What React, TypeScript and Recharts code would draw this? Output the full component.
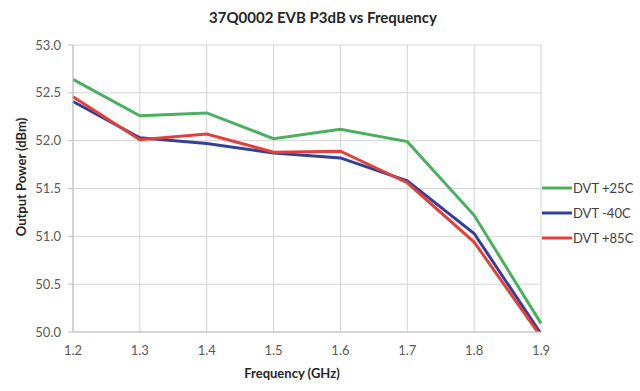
import React from "react";
import { LineChart, Line, XAxis, YAxis, CartesianGrid } from "recharts";

const frequencies = [1.2, 1.3, 1.4, 1.5, 1.6, 1.7, 1.8, 1.9];
const dvt25 = [52.64, 52.26, 52.29, 52.02, 52.12, 51.99, 51.22, 50.09];
const dvtM40 = [52.41, 52.03, 51.97, 51.87, 51.82, 51.58, 51.03, 49.98];
const dvt85 = [52.46, 52.01, 52.07, 51.88, 51.89, 51.56, 50.94, 49.95];
const xTicks = [1.2, 1.3, 1.4, 1.5, 1.6, 1.7, 1.8, 1.9];
const yTicks = [50.0, 50.5, 51.0, 51.5, 52.0, 52.5, 53.0];

const seriesNames = ["DVT +25C", "DVT -40C", "DVT +85C"];
const seriesColors = ["#4caf5f", "#33409a", "#e2403c"];

const data = frequencies.map((f, i) => ({
  f,
  a: dvt25[i],
  b: dvtM40[i],
  c: dvt85[i],
}));

const FONT = "Lato, 'Open Sans', sans-serif";

export default function App() {
  const keys = ["a", "b", "c"];
  return (
    <div style={{ position: "absolute", left: 0, top: 0, width: 640, height: 391, background: "#fff", fontFamily: FONT }}>
      <LineChart
        width={640}
        height={391}
        data={data}
        margin={{ top: 45, right: 99, bottom: 29, left: 13 }}
      >
        <text x={323} y={23} textAnchor="middle" fontFamily={FONT} fontWeight="bold" fontSize={15} fill="#262626">
          37Q0002 EVB P3dB vs Frequency
        </text>
        <text x={21} y={177} transform="rotate(-90 21 177)" dy="0.35em" textAnchor="middle" fontFamily={FONT} fontWeight="bold" fontSize={13} fill="#262626">
          Output Power (dBm)
        </text>
        <text x={292} y={373} dy="0.35em" textAnchor="middle" fontFamily={FONT} fontWeight="bold" fontSize={13} fill="#262626">
          Frequency (GHz)
        </text>
        <CartesianGrid stroke="#d4d4d4" strokeWidth={1} />
        <XAxis
          dataKey="f"
          type="number"
          domain={[1.2, 1.9]}
          ticks={xTicks}
          tickFormatter={(v: number) => v.toFixed(1)}
          height={30}
          stroke="#bfbfbf"
          tickLine={false}
          tickMargin={8}
          tick={{ fill: "#595959", fontSize: 13, fontFamily: FONT }}
        />
        <YAxis
          type="number"
          domain={[50, 53]}
          ticks={yTicks}
          allowDataOverflow
          tickFormatter={(v: number) => v.toFixed(1)}
          width={60}
          stroke="#bfbfbf"
          tickSize={5}
          tickMargin={7}
          tick={{ fill: "#595959", fontSize: 13, fontFamily: FONT }}
        />
        {keys.map((k, i) => (
          <Line
            key={k}
            dataKey={k}
            name={seriesNames[i]}
            stroke={seriesColors[i]}
            strokeWidth={3}
            dot={false}
            isAnimationActive={false}
            type="linear"
          />
        ))}
        {seriesNames.map((n, i) => (
          <g key={n}>
            <line x1={542} x2={572} y1={188 + i * 25} y2={188 + i * 25} stroke={seriesColors[i]} strokeWidth={3} />
            <text x={573} y={188 + i * 25} dy="0.35em" fontFamily={FONT} fontSize={13} fill="#404040">{n}</text>
          </g>
        ))}
      </LineChart>
    </div>
  );
}
